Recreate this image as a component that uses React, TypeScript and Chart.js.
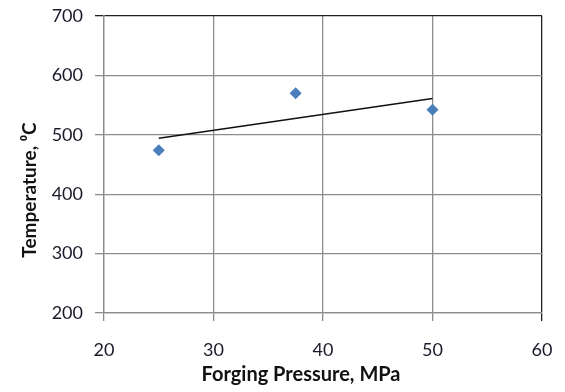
import React, { useEffect, useRef } from "react";
import { Chart, registerables } from "chart.js";

Chart.register(...registerables);

const pressures = [25, 37.5, 50];
const temperatures = [474, 570, 542];
const trendX = [25, 50];
const trendY = [494, 561];
const xTicks = [20, 30, 40, 50, 60];
const yTicks = [200, 300, 400, 500, 600, 700];
const xTitle = "Forging Pressure, MPa";
const yTitle = "Temperature, \u2070C";

const FONT = "Lato, 'Open Sans', sans-serif";

const titlesPlugin = {
  id: "axisTitles",
  afterDraw(chart: any) {
    const ctx = chart.ctx;
    ctx.save();
    ctx.fillStyle = "#111";
    ctx.textAlign = "center";
    ctx.textBaseline = "middle";
    ctx.font = `bold 20px ${FONT}`;
    ctx.fillText(xTitle, 301, 375);
    ctx.font = `bold 19px ${FONT}`;
    ctx.translate(30, 190);
    ctx.rotate(-Math.PI / 2);
    ctx.fillText(yTitle, 0, 0);
    ctx.restore();
  },
};

export default function App() {
  const ref = useRef<HTMLCanvasElement>(null);
  useEffect(() => {
    if (!ref.current) return;
    const chart = new Chart(ref.current, {
      type: "scatter",
      data: {
        datasets: [
          {
            label: "Temperature",
            data: pressures.map((x, i) => ({ x, y: temperatures[i] })),
            pointStyle: "rectRot",
            pointRadius: 6,
            pointBackgroundColor: "#4a7ebb",
            pointBorderColor: "#4a7ebb",
            pointBorderWidth: 0,
            showLine: false,
          },
          {
            label: "Trend",
            data: trendX.map((x, i) => ({ x, y: trendY[i] })),
            showLine: true,
            borderColor: "#111",
            borderWidth: 1.5,
            pointRadius: 0,
          },
        ],
      },
      options: {
        animation: false,
        responsive: true,
        maintainAspectRatio: false,
        layout: { padding: { top: 16, right: 23, left: 0, bottom: 0 } },
        plugins: { legend: { display: false }, tooltip: { enabled: false } },
        scales: {
          x: {
            type: "linear",
            min: 20,
            max: 60,
            afterBuildTicks: (s: any) => {
              s.ticks = xTicks.map((v) => ({ value: v }));
            },
            afterFit: (s: any) => {
              s.height = 79;
              s.paddingLeft = 0;
              s.paddingRight = 0;
            },
            grid: {
              color: (c: any) => (c.tick && c.tick.value === 60 ? "#222" : "#8c8c8c"),
              lineWidth: 1.3,
              tickLength: 8,
            },
            border: { color: "#8c8c8c", width: 1.3 },
            ticks: { color: "#1a1a2a", font: { family: FONT, size: 18 }, padding: 18 },
          },
          y: {
            type: "linear",
            min: 200,
            max: 700,
            afterBuildTicks: (s: any) => {
              s.ticks = yTicks.map((v) => ({ value: v }));
            },
            afterFit: (s: any) => {
              s.width = 104;
              s.paddingTop = 0;
              s.paddingBottom = 0;
            },
            grid: {
              color: (c: any) => (c.tick && c.tick.value === 700 ? "#222" : "#8c8c8c"),
              lineWidth: 1.3,
              tickLength: 9,
            },
            border: { color: "#8c8c8c", width: 1.3 },
            ticks: { color: "#1a1a2a", font: { family: FONT, size: 18 }, padding: 12 },
          },
        },
      },
      plugins: [titlesPlugin],
    });
    return () => chart.destroy();
  }, []);
  return (
    <div style={{ position: "fixed", left: 0, top: 0, width: 565, height: 392, background: "#fff" }}>
      <canvas ref={ref} />
    </div>
  );
}
